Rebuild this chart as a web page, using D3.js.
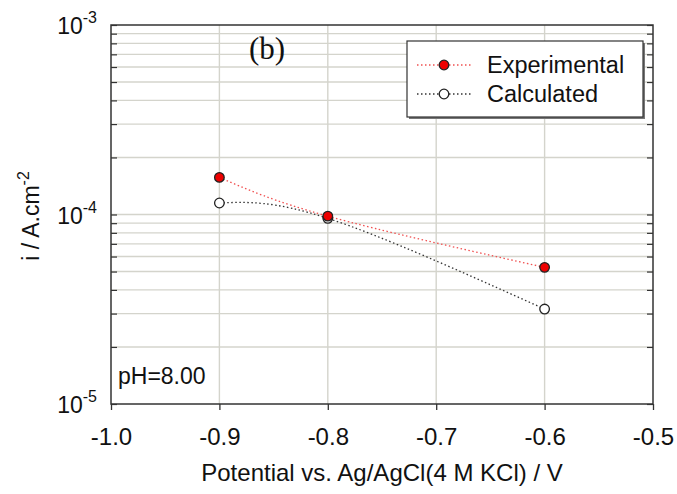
<!DOCTYPE html>
<html><head><meta charset="utf-8">
<script src="https://cdn.jsdelivr.net/npm/d3@7"></script>
<style>body{margin:0;background:#fff} text{font-family:Arial,'Liberation Sans',sans-serif}</style>
</head><body>
<script>
const potentials = [-0.9, -0.8, -0.6];
const experimental = [1.57e-4, 9.8e-5, 5.26e-5];
const calculated = [1.15e-4, 9.55e-5, 3.17e-5];
const xTicks = [-1.0, -0.9, -0.8, -0.7, -0.6, -0.5];
const yDecades = [-5, -4, -3];

const W = 677, H = 494;
const m = {l:111, t:25, r:653, b:404};
const FONT = "Arial, 'Liberation Sans', sans-serif";
const svg = d3.select("body").append("svg").attr("width", W).attr("height", H)
  .style("font-family", FONT);

const x = d3.scaleLinear().domain([-1.0, -0.5]).range([m.l, m.r]);
const y = d3.scaleLog().domain([1e-5, 1e-3]).range([m.b, m.t]);

const minors = [];
[-5, -4].forEach(d => { for (let k = 2; k <= 9; k++) minors.push(k * Math.pow(10, d)); });
const grid = svg.append("g");
grid.selectAll("line.h").data(minors.concat([1e-4])).enter().append("line")
  .attr("x1", m.l).attr("x2", m.r).attr("y1", d => y(d)).attr("y2", d => y(d))
  .attr("stroke", "#d4d4cc").attr("stroke-width", 1.4);
grid.selectAll("line.v").data(xTicks.slice(1, -1)).enter().append("line")
  .attr("y1", m.t).attr("y2", m.b).attr("x1", d => x(d)).attr("x2", d => x(d))
  .attr("stroke", "#d4d4cc").attr("stroke-width", 1.4);

svg.append("rect").attr("x", m.l).attr("y", m.t).attr("width", m.r - m.l).attr("height", m.b - m.t)
  .attr("fill", "none").attr("stroke", "#333").attr("stroke-width", 1.5);

const xAxis = d3.axisBottom(x).tickValues(xTicks).tickSize(6).tickFormat(d3.format(".1f"));
const gx = svg.append("g").attr("transform", `translate(0,${m.b})`).call(xAxis);
gx.attr("font-family", FONT);
gx.select(".domain").remove();
gx.selectAll(".tick line").attr("stroke", "#333").attr("stroke-width", 1.3);
gx.selectAll(".tick text").attr("font-size", 24).attr("fill", "#111").attr("y", 0).attr("dy", 41)
  .text(d => d3.format(".1f")(d).replace("−", "-"));

const allY = minors.concat(yDecades.map(d => Math.pow(10, d)));
const gyl = svg.append("g").attr("transform", `translate(${m.l},0)`).call(d3.axisRight(y).tickValues(allY).tickSize(6).tickFormat(""));
gyl.select(".domain").remove();
gyl.selectAll(".tick line").attr("stroke", "#333").attr("stroke-width", 1.2);
const gyr = svg.append("g").attr("transform", `translate(${m.r},0)`).call(d3.axisLeft(y).tickValues(allY).tickSize(6).tickFormat(""));
gyr.select(".domain").remove();
gyr.selectAll(".tick line").attr("stroke", "#333").attr("stroke-width", 1.2);

const yl = svg.append("g");
yDecades.forEach(d => {
  const t = yl.append("text").attr("x", 97).attr("y", y(Math.pow(10, d)) + 9)
    .attr("text-anchor", "end").attr("font-size", 23).attr("fill", "#111");
  t.append("tspan").text("10");
  t.append("tspan").attr("font-size", 16).attr("dy", -11).text(String(d));
});

svg.append("text").attr("x", 382).attr("y", 481).attr("text-anchor", "middle")
  .attr("font-size", 24).attr("fill", "#111").text("Potential vs. Ag/AgCl(4 M KCl) / V");
const yt = svg.append("text").attr("transform", "translate(39,216) rotate(-90)")
  .attr("text-anchor", "middle").attr("font-size", 23).attr("fill", "#111");
yt.append("tspan").text("i / A.cm");
yt.append("tspan").attr("font-size", 16).attr("dy", -10).text("-2");

const line = d3.line().x(d => x(d[0])).y(d => y(d[1])).curve(d3.curveNatural);
const expData = potentials.map((p, i) => [p, experimental[i]]);
const calData = potentials.map((p, i) => [p, calculated[i]]);
svg.append("path").datum(expData).attr("d", line).attr("fill", "none")
  .attr("stroke", "#f05050").attr("stroke-width", 1.3).attr("stroke-dasharray", "1.5,2.5");
svg.append("path").datum(calData).attr("d", line).attr("fill", "none")
  .attr("stroke", "#333").attr("stroke-width", 1.3).attr("stroke-dasharray", "1.5,2.5");

svg.selectAll("circle.cal").data(calData).enter().append("circle")
  .attr("cx", d => x(d[0])).attr("cy", d => y(d[1])).attr("r", 4.8)
  .attr("fill", "#fff").attr("stroke", "#222").attr("stroke-width", 1.3);
svg.selectAll("circle.exp").data(expData).enter().append("circle")
  .attr("cx", d => x(d[0])).attr("cy", d => y(d[1])).attr("r", 4.8)
  .attr("fill", "#ee0000").attr("stroke", "#222").attr("stroke-width", 1.3);

svg.append("text").attr("x", 249).attr("y", 59).style("font-family", "'Liberation Serif', 'Times New Roman', serif")
  .attr("font-size", 31).attr("fill", "#111").text("(b)");

svg.append("text").attr("x", 118).attr("y", 384).attr("font-size", 23).attr("fill", "#111").text("pH=8.00");

const lg = svg.append("g");
lg.append("rect").attr("x", 409).attr("y", 43).attr("width", 236).attr("height", 76).attr("fill", "#777");
lg.append("rect").attr("x", 407).attr("y", 41).attr("width", 236).attr("height", 76)
  .attr("fill", "#fff").attr("stroke", "#333").attr("stroke-width", 1.2);
const entries = [
  {name: "Experimental", color: "#f05050", fill: "#ee0000", yy: 65},
  {name: "Calculated", color: "#333", fill: "#fff", yy: 94}
];
entries.forEach(e => {
  lg.append("line").attr("x1", 417).attr("x2", 472).attr("y1", e.yy).attr("y2", e.yy)
    .attr("stroke", e.color).attr("stroke-width", 1.3).attr("stroke-dasharray", "1.5,2.5");
  lg.append("circle").attr("cx", 444).attr("cy", e.yy).attr("r", 4.8)
    .attr("fill", e.fill).attr("stroke", "#222").attr("stroke-width", 1.3);
  lg.append("text").attr("x", 487).attr("y", e.yy + 8).attr("font-size", 23.5).attr("fill", "#111").text(e.name);
});
</script>
</body></html>
